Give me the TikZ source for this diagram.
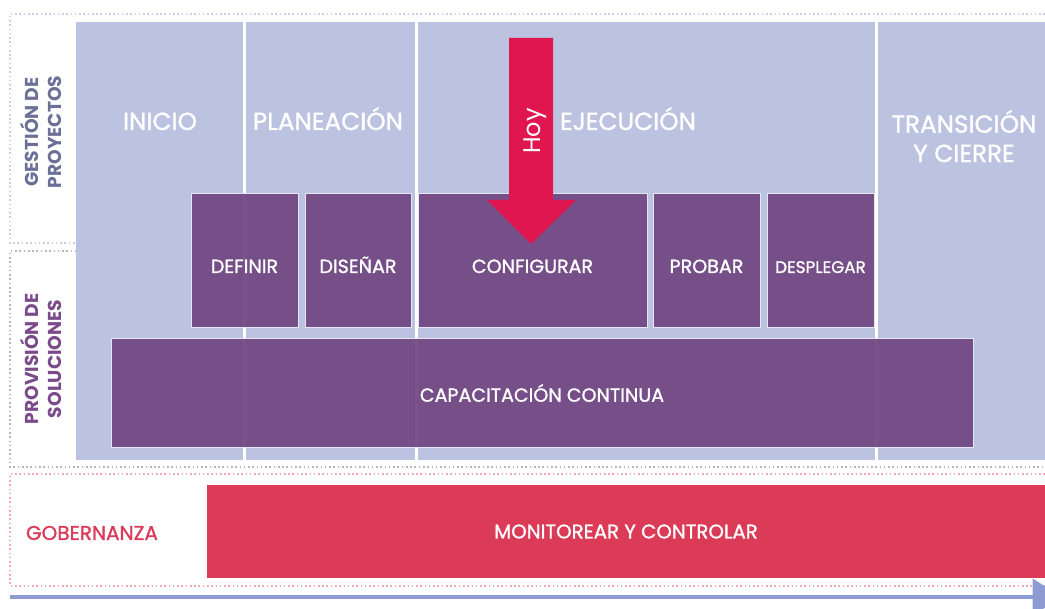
\documentclass[tikz,border=0pt]{standalone}
\usepackage{fontspec}
\setmainfont{Poppins}
\newfontfamily\medio{Poppins}[FakeBold=1.2]
\usetikzlibrary{arrows.meta}

\definecolor{fondoAzul}{RGB}{188,195,225}
\definecolor{cajaMorada}{RGB}{113,71,131}
\definecolor{bandaRoja}{RGB}{220,59,88}
\definecolor{flechaHoy}{RGB}{224,23,79}
\definecolor{textoGestion}{RGB}{108,112,151}
\definecolor{textoProvision}{RGB}{123,74,138}
\definecolor{lineaTiempo}{RGB}{142,154,210}

\tikzset{
  fase/.style={text=white, font=\medio\fontsize{18.5}{22}\selectfont, align=center, inner sep=0.75pt},
  proceso/.style={fill=cajaMorada, fill opacity=0.93, text opacity=1, draw=white!60!fondoAzul, line width=0.75pt, text=white, font=\medio\fontsize{14.3}{17}\selectfont, inner sep=0pt},
  paso/.style={proceso, minimum height=100.5pt, text height=18pt, text depth=0pt},
  marco/.style={dotted, line width=1.2pt},
  rotulo/.style={rotate=90, align=center, font=\bfseries\fontsize{14}{17}\selectfont, inner sep=0.75pt},
}

\begin{document}
\begin{tikzpicture}[x=0.75pt,y=0.75pt,yscale=-1,xscale=1]
        \clip (0,0) rectangle (1045,609);
        \fill[white] (0,0) rectangle (1045,609);

        %Dotted frames
        \draw [marco, color=fondoAzul!80]    (1045,14) -- (10,14) -- (10,243) -- (1045,243) ;
        \draw [marco, color=textoProvision!45]    (1045,251) -- (10,251) -- (10,467) -- (1045,467) ;
        \draw [marco, color=bandaRoja!45]    (1045,474) -- (10,474) -- (10,586) -- (1045,586) ;

        %Shape: Rectangle (background)
        \fill [fondoAzul]  (76,22) rectangle (1045,460) ;
        %Straight Lines (phase limits)
        \foreach \xlim in {244,416,876}
          \draw [white, line width=2.25pt]    (\xlim,22) -- (\xlim,460) ;

        % Phase labels
        \node (inicio) at (160,130) [fase, anchor=base] {INICIO};
        \node (planeacion) at (328,130) [fase, anchor=base] {PLANEACIÓN};
        \node (ejecucion) at (628,130) [fase, anchor=base] {EJECUCIÓN};
        \node (transicion) at (964,136) [fase] {TRANSICIÓN\\Y CIERRE};

        % Process boxes
        \node (definir) at (244.5,261) [paso, minimum width=80.25pt] {DEFINIR};
        \node (disenar) at (358,261) [paso, minimum width=79.5pt] {DISEÑAR};
        \node (configurar) at (532.5,261) [paso, minimum width=171.75pt] {CONFIGURAR};
        \node (probar) at (706.5,261) [paso, minimum width=80.25pt] {PROBAR};
        \node (desplegar) at (820.5,261) [paso, minimum width=80.25pt, font=\medio\fontsize{12.6}{15}\selectfont] {DESPLEGAR};
        \node (capacitacion) at (542,393) [proceso, minimum width=646.5pt, minimum height=81pt] {CAPACITACIÓN CONTINUA};

        %Shape: Banner
        \node (monitorear) at (626,531.5) [fill=bandaRoja, text=white, minimum width=628.5pt, minimum height=69.75pt, inner sep=0pt, font=\medio\fontsize{14.8}{17}\selectfont] {MONITOREAR Y CONTROLAR};

        %Shape: Arrow (Hoy)
        \fill [flechaHoy]  (509,38) -- (553,38) -- (553,200) -- (576,200) -- (531,244) -- (487,200) -- (509,200) -- cycle ;
        \node (hoy) at (535,131) [rotate=90, text=white, font=\fontsize{18}{20}\selectfont, inner sep=0.75pt] {Hoy};

        % Row labels
        \node (gestion) at (41,132) [rotulo, text=textoGestion] {GESTIÓN DE\\PROYECTOS};
        \node (provision) at (41,359) [rotulo, text=textoProvision] {PROVISIÓN DE\\SOLUCIONES};
        \node (gobernanza) at (92,533) [text=bandaRoja, font=\medio\fontsize{15}{17}\selectfont, inner sep=0.75pt] {GOBERNANZA};

        %Timeline
        \coordinate (inicioT) at (10,597);
        \coordinate (finT) at (1062,597);
        \draw [lineaTiempo, line width=2.5pt, -{Triangle[length=22pt, width=27pt]}]    (inicioT) -- (finT) ;
\end{tikzpicture}
\end{document}
